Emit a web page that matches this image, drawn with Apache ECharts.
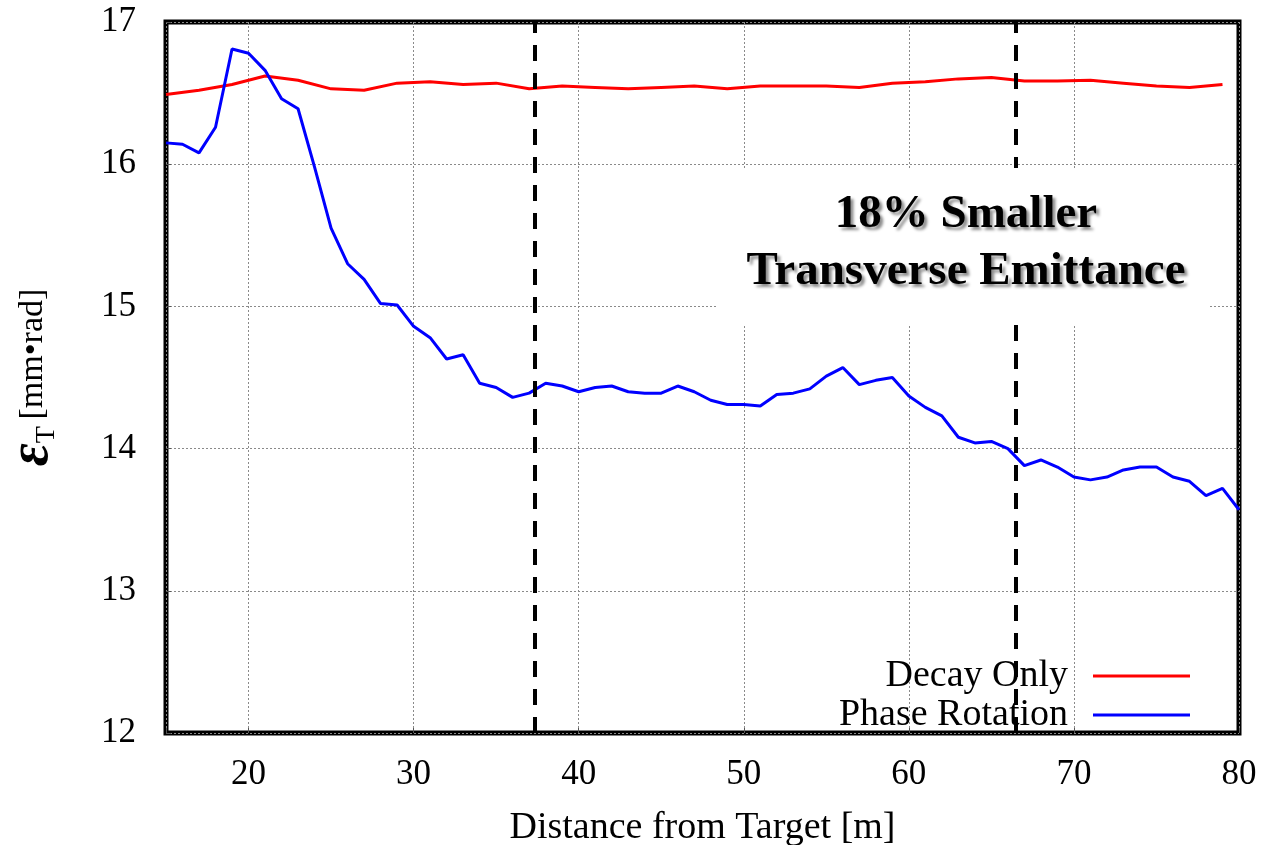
<!DOCTYPE html>
<html>
<head>
<meta charset="utf-8">
<script src="https://cdn.jsdelivr.net/npm/echarts@6/dist/echarts.min.js"></script>
<style>
  html, body { margin: 0; padding: 0; background: #fff; }
  #chart { width: 1266px; height: 845px; }
</style>
</head>
<body>
<div id="chart"></div>
<script>
// Transverse emittance along the channel, with and without phase rotation
const distPhase = [15, 16, 17, 18, 19, 20, 21, 22, 23, 24, 25, 26, 27, 28, 29, 30, 31, 32, 33, 34, 35, 36, 37, 38, 39, 40,
  41, 42, 43, 44, 45, 46, 47, 48, 49, 50, 51, 52, 53, 54, 55, 56, 57, 58, 59, 60, 61, 62, 63, 64, 65, 66, 67, 68, 69, 70,
  71, 72, 73, 74, 75, 76, 77, 78, 79, 80];
const phaseRotation = [16.15, 16.14, 16.08, 16.26, 16.81, 16.78, 16.66, 16.46, 16.39, 15.98, 15.55, 15.30, 15.19, 15.02, 15.01,
  14.86, 14.78, 14.63, 14.66, 14.46, 14.43, 14.36, 14.39, 14.46, 14.44, 14.40, 14.43, 14.44, 14.40, 14.39, 14.39, 14.44,
  14.40, 14.34, 14.31, 14.31, 14.30, 14.38, 14.39, 14.42, 14.51, 14.57, 14.45, 14.48, 14.50, 14.37, 14.29, 14.23, 14.08,
  14.04, 14.05, 14.00, 13.88, 13.92, 13.87, 13.80, 13.78, 13.80, 13.85, 13.87, 13.87, 13.80, 13.77, 13.67, 13.72, 13.57];

const distDecay = [15, 17, 19, 21, 23, 25, 27, 29, 31, 33, 35, 37, 39, 41, 43, 45, 47, 49, 51, 53, 55, 57, 59, 61, 63, 65,
  67, 69, 71, 73, 75, 77, 79];
const decayOnly = [16.49, 16.52, 16.56, 16.62, 16.59, 16.53, 16.52, 16.57, 16.58, 16.56, 16.57, 16.53, 16.55, 16.54, 16.53,
  16.54, 16.55, 16.53, 16.55, 16.55, 16.55, 16.54, 16.57, 16.58, 16.60, 16.61, 16.585, 16.585, 16.59, 16.57, 16.55, 16.54, 16.56];

// Section boundaries along the channel [m]
const sectionBounds = [37.35, 66.45];

const xTicks = [20, 30, 40, 50, 60, 70, 80];
const yTicks = [12, 13, 14, 15, 16, 17];

const note = ['18% Smaller', 'Transverse Emittance'];
const seriesNames = ['Decay Only', 'Phase Rotation'];

const pair = (xs, ys) => xs.map((x, i) => [x, ys[i]]);

const serif = '"Liberation Serif", "DejaVu Serif", serif';
const grid = '#8a8a8a';

const chart = echarts.init(document.getElementById('chart'), null, { renderer: 'canvas' });

const legendBase = {
  orient: 'vertical',
  align: 'right',
  padding: 0,
  icon: 'rect',
  itemWidth: 97,
  itemHeight: 3,
  selectedMode: false,
  textStyle: { fontFamily: serif, fontSize: 38, color: '#000', lineHeight: 38, padding: [0, 20, 0, 0] }
};

const noteStyle = {
  fontFamily: serif, fontWeight: 'bold', fontSize: 47, fill: '#000',
  align: 'center', verticalAlign: 'middle',
  textShadowColor: 'rgba(0,0,0,0.45)', textShadowOffsetX: 3, textShadowOffsetY: 3, textShadowBlur: 3
};

chart.setOption({
  animation: false,
  backgroundColor: '#fff',
  grid: {
    left: 166, right: 27, top: 22, bottom: 112,
    outerBoundsMode: 'none',
    containLabel: false,
    show: true, borderColor: '#000', borderWidth: 5, backgroundColor: 'transparent'
  },
  legend: [
    Object.assign({}, legendBase, { data: [seriesNames[0]], right: 76, top: 657 }),
    Object.assign({}, legendBase, { data: [seriesNames[1]], right: 76, top: 696 })
  ],
  xAxis: {
    type: 'value',
    min: 15, max: 80,
    splitNumber: 7,
    name: 'Distance from Target [m]',
    nameLocation: 'middle',
    nameGap: 76,
    nameTextStyle: { fontFamily: serif, fontSize: 38, color: '#000' },
    axisLine: { show: false },
    axisTick: { show: true, inside: true, length: 5, lineStyle: { color: '#555' } },
    axisLabel: {
      fontFamily: serif, fontSize: 35, color: '#000', margin: 24,
      formatter: v => (xTicks.indexOf(v) >= 0 ? String(v) : '')
    },
    splitLine: { show: true, lineStyle: { color: grid, width: 1, type: [2, 2] } }
  },
  yAxis: {
    type: 'value',
    min: yTicks[0], max: yTicks[yTicks.length - 1], interval: 1,
    name: '{e|ε}{t|T}  {u|[mm•rad]}',
    nameLocation: 'middle',
    nameRotate: 90,
    nameGap: 105,
    nameTextStyle: {
      color: '#000',
      rich: {
        e: { fontFamily: serif, fontStyle: 'italic', fontWeight: 'bold', fontSize: 56, lineHeight: 56, verticalAlign: 'middle' },
        t: { fontFamily: serif, fontSize: 28, lineHeight: 28, verticalAlign: 'bottom' },
        u: { fontFamily: serif, fontSize: 34, lineHeight: 34, verticalAlign: 'middle' }
      }
    },
    axisLine: { show: false },
    axisTick: { show: true, inside: true, length: 5, lineStyle: { color: '#555' } },
    axisLabel: { fontFamily: serif, fontSize: 35, color: '#000', margin: 30 },
    splitLine: { show: true, lineStyle: { color: grid, width: 1, type: [2, 2] } }
  },
  series: [
    {
      name: seriesNames[0],
      type: 'line',
      data: pair(distDecay, decayOnly),
      showSymbol: false,
      color: '#ff0000',
      lineStyle: { color: '#ff0000', width: 3 },
      z: 3
    },
    {
      name: seriesNames[1],
      type: 'line',
      data: pair(distPhase, phaseRotation),
      showSymbol: false,
      color: '#0000ff',
      lineStyle: { color: '#0000ff', width: 3 },
      z: 4,
      markLine: {
        silent: true,
        symbol: 'none',
        label: { show: false },
        animation: false,
        lineStyle: { color: '#000', width: 4, type: [16, 12] },
        data: sectionBounds.map(x => ({ xAxis: x }))
      }
    }
  ],
  graphic: [
    {
      type: 'rect', z: 100,
      shape: { x: 718, y: 168, width: 492, height: 157 },
      style: { fill: '#fff' }
    },
    { type: 'text', z: 101, x: 966, y: 215, style: Object.assign({ text: note[0] }, noteStyle) },
    { type: 'text', z: 101, x: 966, y: 272, style: Object.assign({ text: note[1] }, noteStyle) }
  ]
});
</script>
</body>
</html>
